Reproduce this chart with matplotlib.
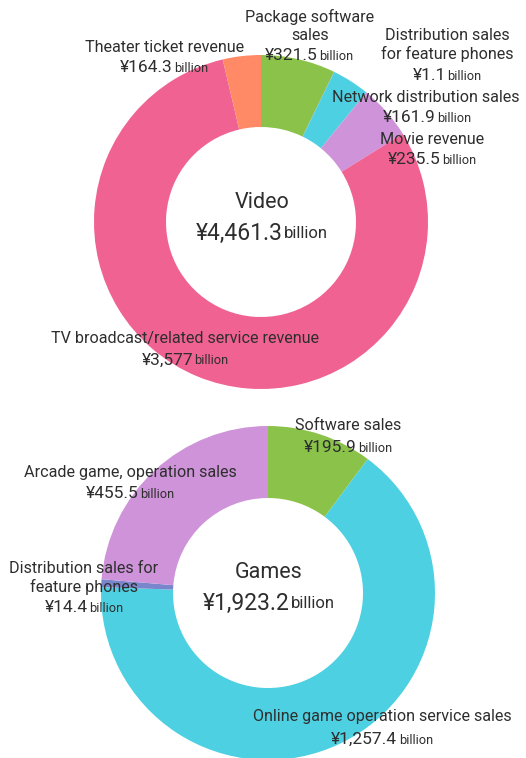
import numpy as np
import matplotlib
matplotlib.use("Agg")
import matplotlib.pyplot as plt

# データ
video_labels = ["Package software\nsales", "Distribution sales\nfor feature phones",
                "Network distribution sales", "Movie revenue",
                "TV broadcast/related service revenue", "Theater ticket revenue"]
video_values = [321.5, 1.1, 161.9, 235.5, 3577, 164.3]
video_value_text = ["¥321.5", "¥1.1", "¥161.9", "¥235.5", "¥3,577", "¥164.3"]
video_colors = ["#8BC34A", "#7986CB", "#4DD0E1", "#CE93D8", "#F06292", "#FF8A65"]
video_total = "¥4,461.3"

games_labels = ["Software sales", "Online game operation service sales",
                "Distribution sales for\nfeature phones", "Arcade game, operation sales"]
games_values = [195.9, 1257.4, 14.4, 455.5]
games_value_text = ["¥195.9", "¥1,257.4", "¥14.4", "¥455.5"]
games_colors = ["#8BC34A", "#4DD0E1", "#7986CB", "#CE93D8"]
games_total = "¥1,923.2"

W, H = 526, 758
plt.rcParams["font.family"] = ["Roboto", "DejaVu Sans"]
TXT = "#2e2e2e"

fig = plt.figure(figsize=(W / 100, H / 100), dpi=100)
ax = fig.add_axes([0, 0, 1, 1])
ax.set_xlim(0, W)
ax.set_ylim(0, H)
ax.axis("off")


def Y(y):
    return H - y


def donut(values, colors, cx, cy, R, r):
    ax.pie(values, colors=colors, startangle=90, counterclock=False,
           center=(cx, Y(cy)), radius=R, frame=True,
           wedgeprops=dict(width=R - r, linewidth=0))


# 値 + billion を一行で中央揃え
value_lines = []


def value_line(x, y, val, big=12.5, small=9.2):
    t1 = ax.text(x, Y(y), val, fontsize=big, color=TXT, ha="left", va="center")
    t2 = ax.text(x, Y(y) - 1, "billion", fontsize=small, color=TXT, ha="left", va="center")
    value_lines.append((x, y, t1, t2))


def label(x, y, s, size=11.6):
    ax.text(x, Y(y), s, fontsize=size, color=TXT, ha="center", va="center",
            linespacing=1.2)


# 上：Video
donut(video_values, video_colors, 261, 222, 167, 95)
label(310, 26, video_labels[0])
value_line(309, 56, video_value_text[0])
label(447, 45, video_labels[1])
value_line(447, 75, video_value_text[1])
label(426, 98, video_labels[2])
value_line(427, 118, video_value_text[2])
label(432, 140, video_labels[3])
value_line(432, 160, video_value_text[3])
label(185, 339, video_labels[4])
value_line(185, 360, video_value_text[4])
label(165, 47, video_labels[5])
value_line(164, 67, video_value_text[5])
label(262, 202, "Video", size=15.5)
value_line(262, 233, video_total, big=16.5, small=12)

# 下：Games
donut(games_values, games_colors, 268, 593, 167, 95)
label(348, 425, games_labels[0])
value_line(348, 447, games_value_text[0])
label(382, 716, games_labels[1])
value_line(382, 739, games_value_text[1])
label(84, 578, games_labels[2])
value_line(84, 607, games_value_text[2])
label(130, 473, games_labels[3])
value_line(130, 494, games_value_text[3])
label(269, 573, "Games", size=15.5)
value_line(269, 603, games_total, big=16.5, small=12)

ax.set_xlim(0, W)
ax.set_ylim(0, H)
ax.set_aspect("auto")

fig.canvas.draw()
rend = fig.canvas.get_renderer()
inv = ax.transData.inverted()
for x, y, t1, t2 in value_lines:
    b1 = t1.get_window_extent(rend)
    b2 = t2.get_window_extent(rend)
    w1 = inv.transform((b1.x1, 0))[0] - inv.transform((b1.x0, 0))[0]
    w2 = inv.transform((b2.x1, 0))[0] - inv.transform((b2.x0, 0))[0]
    gap = 1.5
    x0 = x - (w1 + gap + w2) / 2
    t1.set_x(x0)
    t2.set_x(x0 + w1 + gap)

fig.savefig("out.png", dpi=100)
